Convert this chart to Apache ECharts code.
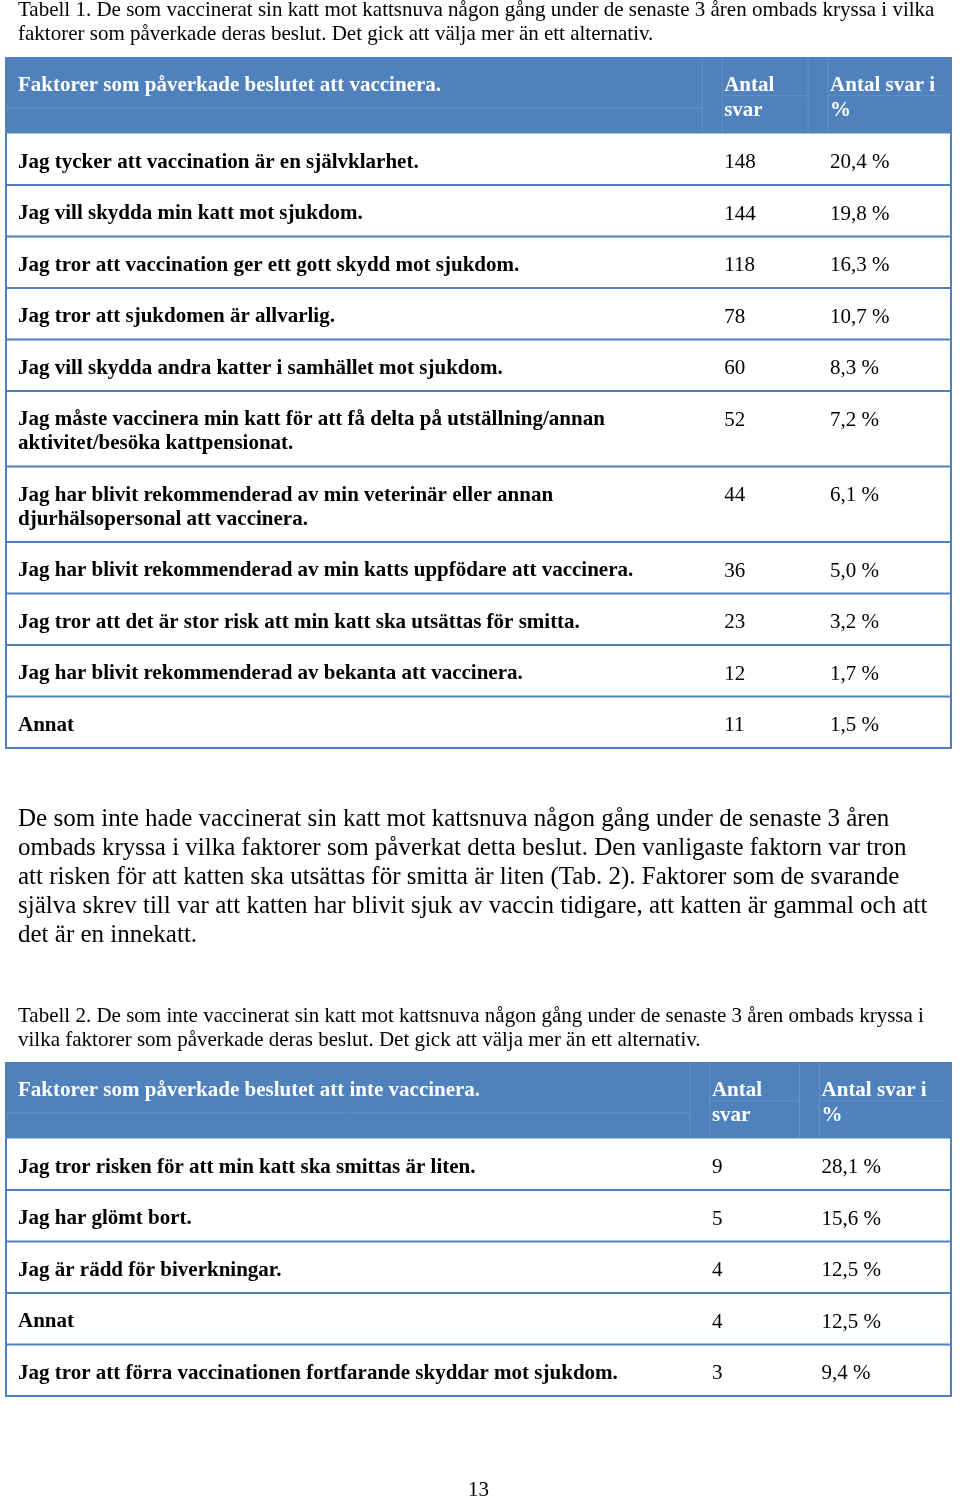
<!DOCTYPE html>
<html>
<head>
<meta charset="utf-8">
<script src="https://cdn.jsdelivr.net/npm/echarts@6/dist/echarts.min.js"></script>
<style>
html,body{margin:0;padding:0;background:#fff;}
#chart{width:960px;height:1499px;}
</style>
</head>
<body>
<div id="chart"></div>
<script>
// ---------- DATA ----------
const caption1 = 'Tabell 1. De som vaccinerat sin katt mot kattsnuva någon gång under de senaste 3 åren ombads kryssa i vilka\nfaktorer som påverkade deras beslut. Det gick att välja mer än ett alternativ.';
const t1Header = ['Faktorer som påverkade beslutet att vaccinera.', 'Antal\nsvar', 'Antal svar i\n%'];
const t1Labels = [
  'Jag tycker att vaccination är en självklarhet.',
  'Jag vill skydda min katt mot sjukdom.',
  'Jag tror att vaccination ger ett gott skydd mot sjukdom.',
  'Jag tror att sjukdomen är allvarlig.',
  'Jag vill skydda andra katter i samhället mot sjukdom.',
  'Jag måste vaccinera min katt för att få delta på utställning/annan\naktivitet/besöka kattpensionat.',
  'Jag har blivit rekommenderad av min veterinär eller annan\ndjurhälsopersonal att vaccinera.',
  'Jag har blivit rekommenderad av min katts uppfödare att vaccinera.',
  'Jag tror att det är stor risk att min katt ska utsättas för smitta.',
  'Jag har blivit rekommenderad av bekanta att vaccinera.',
  'Annat'
];
const t1Counts = [148, 144, 118, 78, 60, 52, 44, 36, 23, 12, 11];
const t1Percents = [20.4, 19.8, 16.3, 10.7, 8.3, 7.2, 6.1, 5.0, 3.2, 1.7, 1.5];

const paragraph = 'De som inte hade vaccinerat sin katt mot kattsnuva någon gång under de senaste 3 åren\nombads kryssa i vilka faktorer som påverkat detta beslut. Den vanligaste faktorn var tron\natt risken för att katten ska utsättas för smitta är liten (Tab. 2). Faktorer som de svarande\nsjälva skrev till var att katten har blivit sjuk av vaccin tidigare, att katten är gammal och att\ndet är en innekatt.';

const caption2 = 'Tabell 2. De som inte vaccinerat sin katt mot kattsnuva någon gång under de senaste 3 åren ombads kryssa i\nvilka faktorer som påverkade deras beslut. Det gick att välja mer än ett alternativ.';
const t2Header = ['Faktorer som påverkade beslutet att inte vaccinera.', 'Antal\nsvar', 'Antal svar i\n%'];
const t2Labels = [
  'Jag tror risken för att min katt ska smittas är liten.',
  'Jag har glömt bort.',
  'Jag är rädd för biverkningar.',
  'Annat',
  'Jag tror att förra vaccinationen fortfarande skyddar mot sjukdom.'
];
const t2Counts = [9, 5, 4, 4, 3];
const t2Percents = [28.1, 15.6, 12.5, 12.5, 9.4];
const pageNumber = '13';

// ---------- LAYOUT / STYLE ----------
const SERIF = '"Liberation Serif", "Times New Roman", serif';
const BLUE = '#4F81BD';
const ROW_BASE = 27.5, LINE_H = 24;
const t1Cols = [1.27, 76.0, 87.2];
const t2Cols = [1.27, 74.7, 86.3];

function fmtPct(v){ return v.toFixed(1).replace('.', ',') + ' %'; }

function buildRows(header, labels, counts, pcts){
  const rows = [];
  let y = 0;
  const hl = 2;
  rows.push({header: true, cells: header, y0: y, y1: y + ROW_BASE + LINE_H*hl});
  y = rows[0].y1;
  labels.forEach((l, i) => {
    const n = l.split('\n').length;
    rows.push({header: false, cells: [l, String(counts[i]), fmtPct(pcts[i])], y0: y, y1: y + ROW_BASE + LINE_H*n});
    y += ROW_BASE + LINE_H*n;
  });
  return {rows, total: y};
}

const T1 = buildRows(t1Header, t1Labels, t1Counts, t1Percents);
const T2 = buildRows(t2Header, t2Labels, t2Counts, t2Percents);

function makeRender(table, cols){
  return function(params, api){
    const r = table.rows[api.value(0)];
    const p0 = api.coord([0, api.value(1)]);
    const p1 = api.coord([100, api.value(2)]);
    const x0 = p0[0], y0 = p0[1], w = p1[0]-p0[0], h = p1[1]-p0[1];
    const children = [];
    if (r.header) {
      children.push({type:'rect', shape:{x:x0, y:y0, width:w, height:h}, style:{fill:BLUE}});
      const faint = 'rgba(255,255,255,0.13)';
      const c1 = api.coord([cols[1], 0])[0], c2 = api.coord([cols[2], 0])[0];
      [c1-22, c1-2, c2-22, c2-2].forEach(xx => children.push({type:'line', shape:{x1:xx, y1:y0, x2:xx, y2:y0+h}, style:{stroke:faint, lineWidth:1}}));
      children.push({type:'line', shape:{x1:x0, y1:y0+h*0.66, x2:c1-22, y2:y0+h*0.66}, style:{stroke:faint, lineWidth:1}});
      children.push({type:'line', shape:{x1:c1-2, y1:y0+h*0.5, x2:c2-22, y2:y0+h*0.5}, style:{stroke:faint, lineWidth:1}});
      children.push({type:'line', shape:{x1:c2-2, y1:y0+h*0.5, x2:x0+w-6, y2:y0+h*0.5}, style:{stroke:faint, lineWidth:1}});
    } else {
      children.push({type:'line', shape:{x1:x0, y1:y0+h, x2:x0+w, y2:y0+h}, style:{stroke:BLUE, lineWidth:2}});
    }
    r.cells.forEach((txt, ci) => {
      const cx = api.coord([cols[ci], 0])[0];
      children.push({type:'text', style:{
        text: txt, x: cx, y: y0 + (r.header ? 15 : 17),
        fill: r.header ? '#ffffff' : '#000000',
        fontFamily: SERIF, fontSize: 21,
        fontWeight: (r.header || ci === 0) ? 'bold' : 'normal',
        lineHeight: r.header ? 25 : LINE_H, verticalAlign: 'top', align: 'left'
      }});
    });
    return {type:'group', children};
  };
}

const chart = echarts.init(document.getElementById('chart'), null, {renderer:'canvas'});
const option = {
  backgroundColor: '#ffffff',
  animation: false,
  grid: [
    {left: 6, top: 58, width: 945, height: T1.total, show: true, borderColor: BLUE, borderWidth: 2, backgroundColor: 'transparent'},
    {left: 6, top: 1063, width: 945, height: T2.total, show: true, borderColor: BLUE, borderWidth: 2, backgroundColor: 'transparent'}
  ],
  xAxis: [
    {type:'value', gridIndex:0, min:0, max:100, show:false},
    {type:'value', gridIndex:1, min:0, max:100, show:false}
  ],
  yAxis: [
    {type:'value', gridIndex:0, min:0, max:T1.total, inverse:true, show:false},
    {type:'value', gridIndex:1, min:0, max:T2.total, inverse:true, show:false}
  ],
  series: [
    {type:'custom', xAxisIndex:0, yAxisIndex:0, clip:false, renderItem: makeRender(T1, t1Cols),
     data: T1.rows.map((r,i)=>[i, r.y0, r.y1])},
    {type:'custom', xAxisIndex:1, yAxisIndex:1, clip:false, renderItem: makeRender(T2, t2Cols),
     data: T2.rows.map((r,i)=>[i, r.y0, r.y1])}
  ],
  graphic: [
    {type:'text', left: 18, top: -2, style:{text: caption1, fontFamily: SERIF, fontSize: 21, lineHeight: 24, fill:'#000'}},
    {type:'text', left: 18, top: 805, style:{text: paragraph, fontFamily: SERIF, fontSize: 25, lineHeight: 29, fill:'#000'}},
    {type:'text', left: 18, top: 1004, style:{text: caption2, fontFamily: SERIF, fontSize: 21, lineHeight: 24, fill:'#000'}},
    {type:'text', left: 468, top: 1480, style:{text: pageNumber, fontFamily: SERIF, fontSize: 21, fill:'#000'}}
  ]
};
chart.setOption(option);
</script>
</body>
</html>
